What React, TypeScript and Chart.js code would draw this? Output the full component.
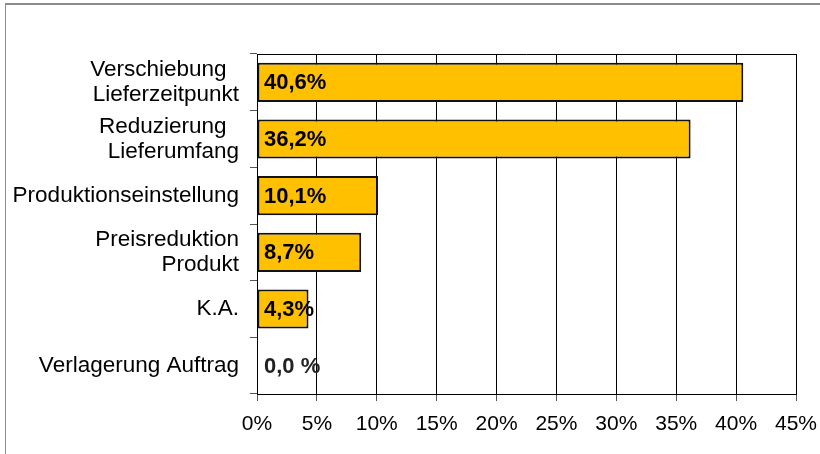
import React, { useEffect, useRef } from "react";
import { Chart, registerables } from "chart.js";

Chart.register(...registerables);

const categories: (string | string[])[] = [
  ["Verschiebung  ", "Lieferzeitpunkt"],
  ["Reduzierung  ", "Lieferumfang"],
  "Produktionseinstellung",
  ["Preisreduktion", "Produkt"],
  "K.A.",
  "Verlagerung Auftrag",
];
const shareValues = [40.6, 36.2, 10.1, 8.7, 4.3, 0.0];
const valueLabels = ["40,6%", "36,2%", "10,1%", "8,7%", "4,3%", "0,0 %"];
const xTicks = [0, 5, 10, 15, 20, 25, 30, 35, 40, 45];

const FONT = "'Liberation Sans', Arial, sans-serif";

const framePlugin = {
  id: "frame",
  afterDatasetsDraw(chart: any) {
    const { ctx, chartArea } = chart;
    ctx.save();
    ctx.strokeStyle = "#000";
    ctx.lineWidth = 1;
    ctx.beginPath();
    ctx.moveTo(chartArea.left, chartArea.top + 0.5);
    ctx.lineTo(chartArea.right, chartArea.top + 0.5);
    ctx.stroke();
    ctx.restore();
  },
};

const labelPlugin = {
  id: "valueLabels",
  afterDatasetsDraw(chart: any) {
    const { ctx } = chart;
    const meta = chart.getDatasetMeta(0);
    const xScale = chart.scales.x;
    ctx.save();
    ctx.font = `bold 22px ${FONT}`;
    ctx.textAlign = "left";
    ctx.textBaseline = "middle";
    meta.data.forEach((el: any, i: number) => {
      ctx.fillStyle = shareValues[i] === 0 ? "#222" : "#000";
      ctx.fillText(valueLabels[i], xScale.getPixelForValue(0) + 7, el.y + 1);
    });
    ctx.restore();
  },
};

export default function App() {
  const ref = useRef<HTMLCanvasElement>(null);
  useEffect(() => {
    if (!ref.current) return;
    const chart = new Chart(ref.current, {
      type: "bar",
      data: {
        labels: categories,
        datasets: [
          {
            data: shareValues,
            backgroundColor: "#FFC000",
            borderColor: "#111",
            borderWidth: 2,
            borderSkipped: false,
            barPercentage: 0.69,
            categoryPercentage: 1,
          },
        ],
      },
      options: {
        indexAxis: "y",
        animation: false,
        responsive: false,
        maintainAspectRatio: false,
        layout: { padding: { top: 54, right: 24, bottom: 0, left: 0 } },
        plugins: { legend: { display: false }, tooltip: { enabled: false } },
        scales: {
          x: {
            type: "linear",
            min: 0,
            max: 45,
            afterBuildTicks: (s: any) => {
              s.ticks = xTicks.map((v) => ({ value: v }));
            },
            afterFit: (s: any) => {
              s.height = 60;
              s.paddingRight = 0;
              s.paddingLeft = 0;
            },
            grid: {
              color: "#000",
              lineWidth: 1,
              drawTicks: true,
              tickLength: 7,
              tickColor: "#555",
            },
            border: { display: true, color: "#000", width: 1 },
            ticks: {
              color: "#000",
              font: { family: FONT, size: 21 },
              padding: 11,
              callback: (v: any) => `${v}%`,
            },
          },
          y: {
            afterFit: (s: any) => {
              s.width = 257;
              s.paddingTop = 0;
              s.paddingBottom = 0;
            },
            grid: {
              drawOnChartArea: false,
              drawTicks: true,
              tickLength: 7,
              tickColor: "#555",
              offset: true,
            },
            border: { display: true, color: "#000", width: 1 },
            ticks: {
              color: "#000",
              font: { family: FONT, size: 22.5, lineHeight: 1.1 },
              padding: 11,
            },
          },
        },
      },
      plugins: [framePlugin, labelPlugin],
    });
    return () => chart.destroy();
  }, []);

  return (
    <div style={{ position: "fixed", left: 0, top: 0, width: 820, height: 454, background: "#fff" }}>
      <div
        style={{
          position: "absolute",
          left: 5,
          top: 3,
          width: 830,
          height: 470,
          borderTop: "2px solid #8c8c8c",
          borderLeft: "1px solid #8c8c8c",
        }}
      />
      <canvas ref={ref} width={820} height={454} style={{ position: "absolute", left: 0, top: 0 }} />
    </div>
  );
}
